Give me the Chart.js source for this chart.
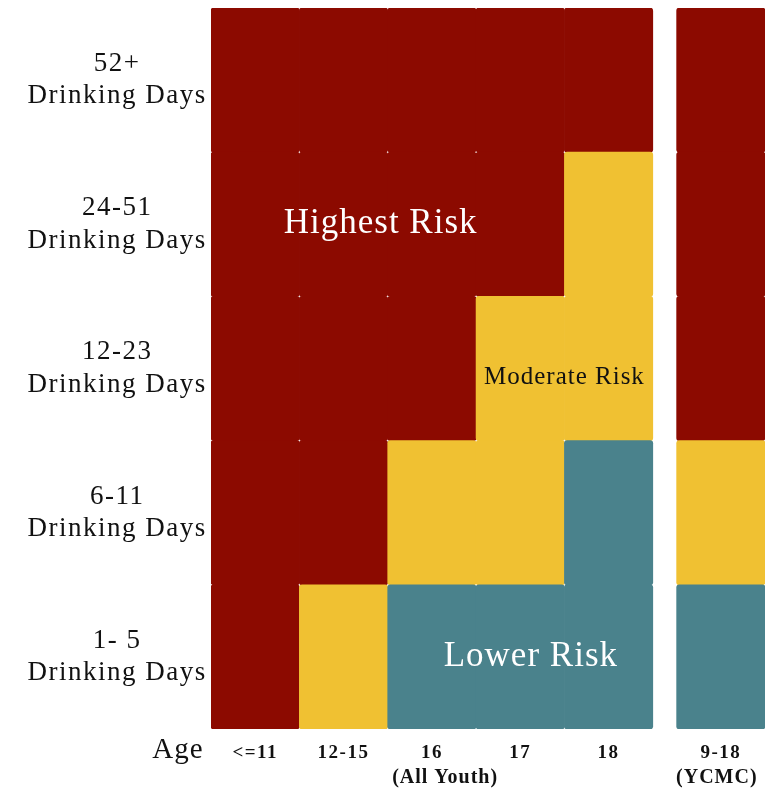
<!DOCTYPE html>
<html lang="en">
<head>
    <meta charset="UTF-8">
    <title>Drinking Days Risk by Age</title>
    <script src="https://cdn.jsdelivr.net/npm/chart.js"></script>
    <style>
        body { margin: 0; background: #fff; }
        #wrap { width: 765px; height: 796px; }
    </style>
</head>
<body>
    <div id="wrap"><canvas id="riskChart"></canvas></div>

    <script>
        // columns (ages) and rows (drinking days), bottom row first
        const ages = ['<=11', '12-15', '16', '17', '18', '9-18'];
        const rowLabels = ['1- 5', '6-11', '12-23', '24-51', '52+'];
        const levels = ['Lower Risk', 'Moderate Risk', 'Highest Risk'];
        const levelColors = ['#4a828c', '#f0c132', '#8c0a00'];

        // risk level per cell: 0 = lower, 1 = moderate, 2 = highest
        const risk1to5 = [2, 1, 0, 0, 0, 0];
        const risk6to11 = [2, 2, 1, 1, 0, 1];
        const risk12to23 = [2, 2, 2, 1, 1, 2];
        const risk24to51 = [2, 2, 2, 2, 1, 2];
        const risk52plus = [2, 2, 2, 2, 2, 2];
        const riskRows = [risk1to5, risk6to11, risk12to23, risk24to51, risk52plus];

        const groupLabels = ['(All Youth)', '(YCMC)'];

        const SERIF = '"Liberation Serif", "Times New Roman", serif';
        const GAP = 0.27; // space before the YCMC column
        const colX = i => i + 0.5 + (i === 5 ? GAP : 0);

        const datasets = riskRows.map((row, r) => ({
            label: rowLabels[r],
            data: row.map((lvl, i) => ({ x: colX(i), y: [r, r + 1] })),
            backgroundColor: row.map(lvl => levelColors[lvl]),
            borderWidth: 0,
            borderRadius: 3,
            borderSkipped: false,
            barPercentage: 1,
            categoryPercentage: 1,
            grouped: false
        }));

        // extra text: "Age", group names and the risk labels in the grid
        const textPlugin = {
            id: 'texts',
            beforeDraw(chart) {
                chart.ctx.letterSpacing = '1.5px';
            },
            afterDraw(chart) {
                const ctx = chart.ctx;
                const xs = chart.scales.x, ys = chart.scales.y;
                ctx.save();
                ctx.letterSpacing = '1px';
                ctx.textAlign = 'center';
                ctx.textBaseline = 'middle';

                ctx.fillStyle = '#111';
                ctx.font = '29px ' + SERIF;
                ctx.fillText('Age', 178, 750);

                ctx.font = 'bold 20px ' + SERIF;
                ctx.fillText(groupLabels[0], xs.getPixelForValue(2.65), 778);
                ctx.fillText(groupLabels[1], xs.getPixelForValue(colX(5)) - 4, 778);

                ctx.fillStyle = '#fff';
                ctx.font = '35px ' + SERIF;
                ctx.fillText(levels[2], xs.getPixelForValue(1.92), ys.getPixelForValue(3.5));
                ctx.fillText(levels[0], xs.getPixelForValue(3.62), ys.getPixelForValue(0.5));

                ctx.fillStyle = '#111';
                ctx.font = '25px ' + SERIF;
                ctx.fillText(levels[1], xs.getPixelForValue(4.0), ys.getPixelForValue(2.44));
                ctx.restore();
            }
        };

        new Chart(document.getElementById('riskChart'), {
            type: 'bar',
            data: { datasets },
            options: {
                responsive: true,
                maintainAspectRatio: false,
                animation: false,
                layout: { padding: { top: 8, right: 0, left: 0, bottom: 0 } },
                plugins: {
                    legend: { display: false },
                    tooltip: { enabled: false }
                },
                scales: {
                    x: {
                        type: 'linear',
                        min: 0,
                        max: 6 + GAP,
                        offset: false,
                        grid: { display: false },
                        border: { display: false },
                        afterBuildTicks: s => { s.ticks = ages.map((a, i) => ({ value: colX(i) })); },
                        afterFit: s => { s.height = 67; s.paddingLeft = 0; s.paddingRight = 0; },
                        ticks: {
                            autoSkip: false,
                            maxRotation: 0,
                            padding: 5,
                            color: '#111',
                            font: { family: SERIF, size: 19, weight: 'bold' },
                            callback: (v, i) => ages[i]
                        }
                    },
                    y: {
                        type: 'linear',
                        min: 0,
                        max: 5,
                        grid: { display: false },
                        border: { display: false },
                        afterBuildTicks: s => { s.ticks = rowLabels.map((l, i) => ({ value: i + 0.5 })); },
                        afterFit: s => { s.width = 211; s.paddingTop = 0; s.paddingBottom = 0; },
                        ticks: {
                            autoSkip: false,
                            crossAlign: 'center',
                            padding: 6,
                            color: '#111',
                            font: { family: SERIF, size: 27, lineHeight: 1.2 },
                            callback: (v, i) => [rowLabels[i], 'Drinking Days']
                        }
                    }
                }
            },
            plugins: [textPlugin]
        });
    </script>
</body>
</html>
